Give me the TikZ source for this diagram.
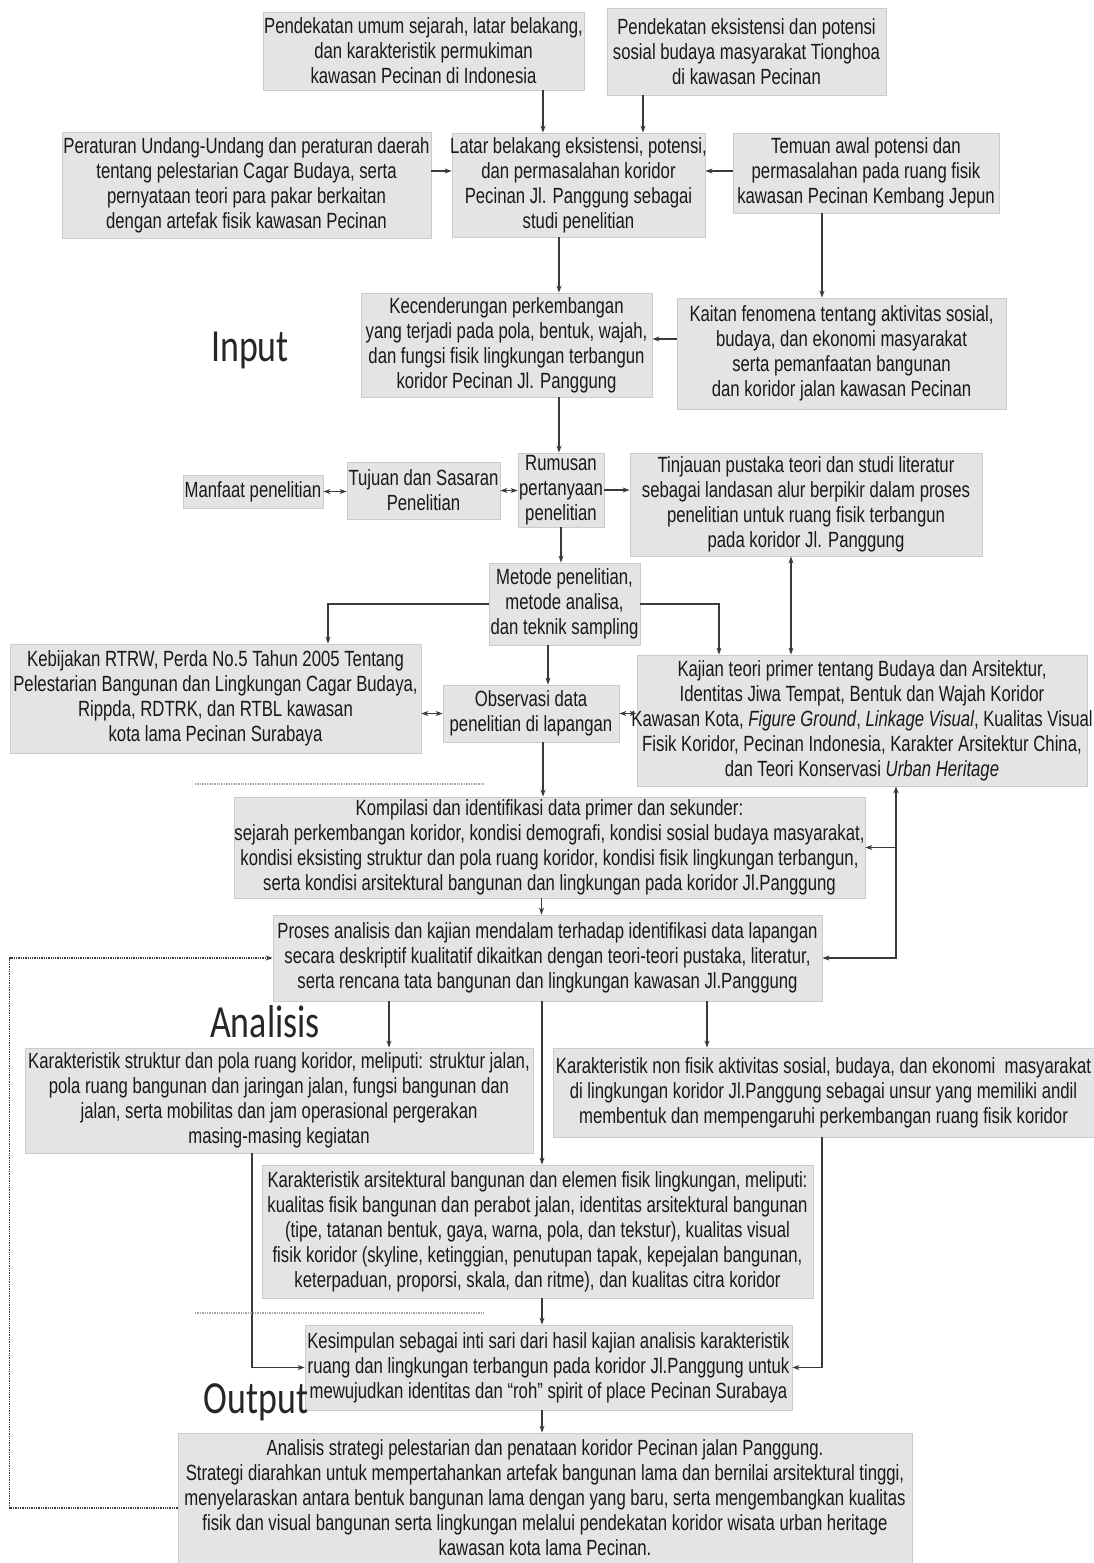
\documentclass[tikz,border=0pt]{standalone}
\usepackage{fontspec}
\setmainfont{Liberation Sans}[FakeStretch=0.76]
\newfontfamily\judulfont{Carlito}[FakeStretch=0.78]
\usepackage{tikz}
\usetikzlibrary{arrows.meta}
\definecolor{isikotak}{HTML}{E4E4E4}
\definecolor{tepi}{HTML}{CBCBCB}
\definecolor{garis}{HTML}{3A3A3A}
\tikzset{>={Stealth[length=7pt,width=5pt]}}
\tikzset{
  kotak/.style={fill=isikotak, draw=tepi, line width=0.8pt, text=black!90, align=center,
    inner sep=1pt, font=\fontsize{22}{25}\selectfont},
  ukuran/.style 2 args={minimum width=#1pt, minimum height=#2pt},
  panah/.style={draw=garis, line width=1.1pt},
  titik/.style={draw=garis, line width=1.3pt, densely dotted},
  sekat/.style={draw=black!35, line width=1.4pt, densely dotted},
  judul/.style={font=\judulfont\fontsize{46}{50}\selectfont, text=black!85}
}
% baris yang lebih lebar dari kotaknya
\newcommand{\lebar}[2]{\makebox[#1pt]{#2}}

\begin{document}
\begin{tikzpicture}[x=1pt,y=-1pt]
\useasboundingbox (0,0) rectangle (1094,1563);

% input
\node[kotak, ukuran={317}{78}] (pendUmum) at (423.5,51) {Pendekatan umum sejarah, latar belakang,\\ dan karakteristik permukiman\\ kawasan Pecinan di Indonesia};
\node[kotak, ukuran={279}{87}] (pendEks) at (746.5,51.5) {Pendekatan eksistensi dan potensi\\ sosial budaya masyarakat Tionghoa\\ di kawasan Pecinan};
\node[kotak, ukuran={369}{106}] (peraturan) at (246.5,185) {Peraturan Undang-Undang dan peraturan daerah\\ tentang pelestarian Cagar Budaya, serta\\ pernyataan teori para pakar berkaitan\\ dengan artefak fisik kawasan Pecinan};
\node[kotak, ukuran={253}{104}] (latar) at (578.5,185) {\lebar{240}{Latar belakang eksistensi, potensi,}\\ dan permasalahan koridor\\ Pecinan Jl. Panggung sebagai\\ studi penelitian};
\node[kotak, ukuran={266}{80}] (temuan) at (866,173) {Temuan awal potensi dan\\ permasalahan pada ruang fisik\\ kawasan Pecinan Kembang Jepun};
\node[kotak, ukuran={291}{104}] (kecend) at (506.5,345) {Kecenderungan perkembangan\\ yang terjadi pada pola, bentuk, wajah,\\ dan fungsi fisik lingkungan terbangun\\ koridor Pecinan Jl. Panggung};
\node[kotak, ukuran={329}{111}] (kaitan) at (841.5,353.5) {Kaitan fenomena tentang aktivitas sosial,\\ budaya, dan ekonomi masyarakat\\ serta pemanfaatan bangunan\\ dan koridor jalan kawasan Pecinan};
\node[kotak, ukuran={140}{33}] (manfaat) at (253,491.5) {Manfaat penelitian};
\node[kotak, ukuran={153}{57}] (tujuan) at (423.5,490.5) {Tujuan dan Sasaran\\ Penelitian};
\node[kotak, ukuran={86}{74}] (rumusan) at (561,490) {Rumusan\\ pertanyaan\\ penelitian};
\node[kotak, ukuran={352}{103}] (tinjauan) at (806,504.5) {Tinjauan pustaka teori dan studi literatur\\ sebagai landasan alur berpikir dalam proses\\ penelitian untuk ruang fisik terbangun\\ pada koridor Jl. Panggung};
\node[kotak, ukuran={151}{82}] (metode) at (564.5,604) {Metode penelitian,\\ metode analisa,\\ dan teknik sampling};
\node[kotak, ukuran={411}{109}] (kebijakan) at (215.5,698.5) {Kebijakan RTRW, Perda No.5 Tahun 2005 Tentang\\ Pelestarian Bangunan dan Lingkungan Cagar Budaya,\\ Rippda, RDTRK, dan RTBL kawasan\\ kota lama Pecinan Surabaya};
\node[kotak, ukuran={176}{57}] (observasi) at (531,713.5) {Observasi data\\ penelitian di lapangan};
\node[kotak, ukuran={450}{131}] (kajian) at (862,720.5) {Kajian teori primer tentang Budaya dan Arsitektur,\\ Identitas Jiwa Tempat, Bentuk dan Wajah Koridor\\ \lebar{430}{Kawasan Kota, \textit{Figure Ground}, \textit{Linkage Visual}, Kualitas Visual}\\ Fisik Koridor, Pecinan Indonesia, Karakter Arsitektur China,\\ dan Teori Konservasi \textit{Urban Heritage}};

% analisis
\node[kotak, ukuran={631}{101}] (kompilasi) at (549.5,847.5) {Kompilasi dan identifikasi data primer dan sekunder:\\ \lebar{620}{sejarah perkembangan koridor, kondisi demografi, kondisi sosial budaya masyarakat,}\\ kondisi eksisting struktur dan pola ruang koridor, kondisi fisik lingkungan terbangun,\\ serta kondisi arsitektural bangunan dan lingkungan pada koridor Jl.Panggung};
\node[kotak, ukuran={549}{86}] (proses) at (547.5,958) {Proses analisis dan kajian mendalam terhadap identifikasi data lapangan\\ secara deskriptif kualitatif dikaitkan dengan teori-teori pustaka, literatur,\\ serta rencana tata bangunan dan lingkungan kawasan Jl.Panggung};
\node[kotak, ukuran={508}{105}] (karStruktur) at (279,1100.5) {Karakteristik struktur dan pola ruang koridor, meliputi: struktur jalan,\\ pola ruang bangunan dan jaringan jalan, fungsi bangunan dan\\ jalan, serta mobilitas dan jam operasional pergerakan\\ masing-masing kegiatan};
\node[kotak, ukuran={541}{89}] (karNon) at (823.5,1092.5) {\lebar{530}{Karakteristik non fisik aktivitas sosial, budaya, dan ekonomi\ \ masyarakat}\\ di lingkungan koridor Jl.Panggung sebagai unsur yang memiliki andil\\ membentuk dan mempengaruhi perkembangan ruang fisik koridor};
\node[kotak, ukuran={551}{133}] (karArs) at (537.5,1231.5) {Karakteristik arsitektural bangunan dan elemen fisik lingkungan, meliputi:\\ kualitas fisik bangunan dan perabot jalan, identitas arsitektural bangunan\\ (tipe, tatanan bentuk, gaya, warna, pola, dan tekstur), kualitas visual\\ fisik koridor (skyline, ketinggian, penutupan tapak, kepejalan bangunan,\\ keterpaduan, proporsi, skala, dan ritme), dan kualitas citra koridor};

% output
\node[kotak, ukuran={487}{85}] (kesimpulan) at (548.5,1367.5) {Kesimpulan sebagai inti sari dari hasil kajian analisis karakteristik\\ ruang dan lingkungan terbangun pada koridor Jl.Panggung untuk\\ mewujudkan identitas dan “roh” spirit of place Pecinan Surabaya};
\node[kotak, ukuran={734}{130}] (strategi) at (545,1498) {Analisis strategi pelestarian dan penataan koridor Pecinan jalan Panggung.\\ Strategi diarahkan untuk mempertahankan artefak bangunan lama dan bernilai arsitektural tinggi,\\ menyelaraskan antara bentuk bangunan lama dengan yang baru, serta mengembangkan kualitas\\ fisik dan visual bangunan serta lingkungan melalui pendekatan koridor wisata urban heritage\\ kawasan kota lama Pecinan.};

\node[judul] (lblInput) at (250,350) {Input};
\node[judul] (lblAnalisis) at (265,1022) {Analisis};
\node[judul] (lblOutput) at (256,1402) {Output};

% garis
\draw[panah,->] ([xshift=119.5pt]pendUmum.south) -- ([xshift=119.5pt]pendUmum.south |- latar.north);
\draw[panah,->] ([xshift=-103.5pt]pendEks.south) -- ([xshift=-103.5pt]pendEks.south |- latar.north);
\draw[panah,->] ([yshift=14pt]peraturan.east) -- ([yshift=14pt]latar.west);
\draw[panah,->] ([yshift=2pt]temuan.west) -- ([yshift=2pt]temuan.west -| latar.east);
\draw[panah,->] ([xshift=-19.5pt]latar.south) -- ([xshift=-19.5pt]latar.south |- kecend.north);
\draw[panah,->] ([xshift=-44pt]temuan.south) -- ([xshift=-44pt]temuan.south |- kaitan.north);
\draw[panah,->] ([yshift=14.5pt]kaitan.west) -- ([yshift=14.5pt]kaitan.west -| kecend.east);
\draw[panah,->] ([xshift=52.5pt]kecend.south) -- ([xshift=52.5pt]kecend.south |- rumusan.north);
\draw[panah,<->] (manfaat.east) -- (manfaat.east -| tujuan.west);
\draw[panah,<->] (tujuan.east) -- (tujuan.east -| rumusan.west);
\draw[panah,->] (rumusan.east) -- (rumusan.east -| tinjauan.west);
\draw[panah,->] (rumusan.south) -- (rumusan.south |- metode.north);
\draw[panah,->] (metode.west) -| ([xshift=112.5pt]kebijakan.north);
\draw[panah,->] (metode.east) -| ([xshift=-143pt]kajian.north);
\draw[panah,<->] ([xshift=-15pt]tinjauan.south) -- ([xshift=-15pt]tinjauan.south |- kajian.north);
\draw[panah,->] ([xshift=-16.5pt]metode.south) -- ([xshift=-16.5pt]metode.south |- observasi.north);
\draw[panah,<->] (observasi.west) -- (observasi.west -| kebijakan.east);
\draw[panah,<->] (observasi.east) -- (observasi.east -| kajian.west);
\draw[panah,->] ([xshift=12pt]observasi.south) -- ([xshift=12pt]observasi.south |- kompilasi.north);
\draw[panah,<->] ([xshift=34pt]kajian.south) |- (proses.east);
\draw[panah,->] ([xshift=34pt]kajian.south |- kompilasi.east) -- (kompilasi.east);
\draw[panah,->] ([xshift=-8pt]kompilasi.south) -- ([xshift=-8pt]kompilasi.south |- proses.north);
\draw[panah,->] ([xshift=-158.5pt]proses.south) -- ([xshift=-158.5pt]proses.south |- karStruktur.north);
\draw[panah,->] ([xshift=159.5pt]proses.south) -- ([xshift=159.5pt]proses.south |- karNon.north);
\draw[panah,->] ([xshift=-5.5pt]proses.south) -- ([xshift=-5.5pt]proses.south |- karArs.north);
\draw[panah,->] ([xshift=-27pt]karStruktur.south) |- (kesimpulan.west);
\draw[panah,->] ([xshift=-1.5pt]karNon.south) |- (kesimpulan.east);
\draw[panah,->] ([xshift=4.5pt]karArs.south) -- ([xshift=4.5pt]karArs.south |- kesimpulan.north);
\draw[panah,->] ([xshift=-6.5pt]kesimpulan.south) -- ([xshift=-6.5pt]kesimpulan.south |- strategi.north);
\draw[titik,->] ([yshift=-10pt]strategi.west) -- ++(-168pt,0) |- (proses.west);

% sekat
\draw[sekat] (195,784) -- (484,784);
\draw[sekat] (195,1313) -- (484,1313);
\end{tikzpicture}
\end{document}
